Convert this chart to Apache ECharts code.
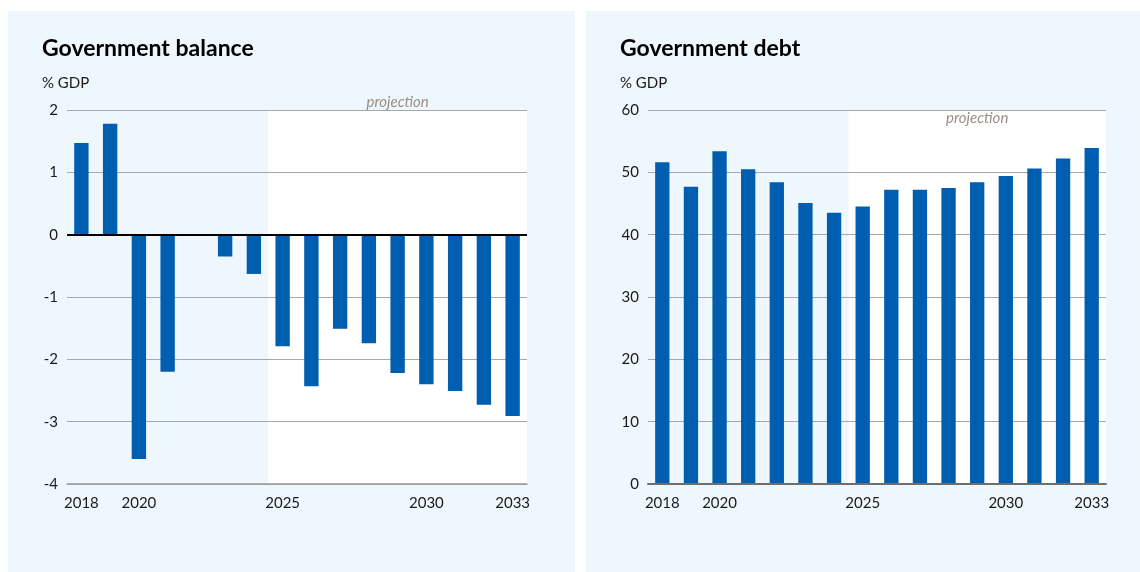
<!DOCTYPE html>
<html>
<head>
<meta charset="utf-8">
<script src="https://cdn.jsdelivr.net/npm/echarts@6/dist/echarts.min.js"></script>
<style>
  html, body { margin: 0; padding: 0; background: #ffffff; }
  body { width: 1140px; height: 572px; position: relative; overflow: hidden; }
  .panel { position: absolute; top: 11px; height: 561px; background: #edf7fd; }
  #balance { left: 8px; width: 567px; }
  #debt { left: 586px; width: 554px; }
</style>
</head>
<body>
<div id="balance" class="panel"></div>
<div id="debt" class="panel"></div>
<script>
// Years on the horizontal axis
const years = ['2018','2019','2020','2021','2022','2023','2024','2025',
               '2026','2027','2028','2029','2030','2031','2032','2033'];
// Only these years get a label under their tick
const labelledYears = ['2018','2020','2025','2030','2033'];
// Index of the first projected year
const firstProjection = 7;

// Government balance, % GDP
const balanceValues = [1.47, 1.78, -3.60, -2.20, 0, -0.35, -0.63, -1.79,
                       -2.43, -1.51, -1.74, -2.22, -2.40, -2.51, -2.73, -2.91];
// Government debt, % GDP
const debtValues = [51.6, 47.7, 53.4, 50.5, 48.4, 45.1, 43.5, 44.5,
                    47.2, 47.2, 47.5, 48.4, 49.4, 50.6, 52.2, 53.9];

const balanceTicks = { min: -4, max: 2, interval: 1 };
const debtTicks = { min: 0, max: 60, interval: 10 };

const FONT = 'Lato, "Noto Sans", sans-serif';
const BAR = '#005eb0';
const GRID_LINE = '#a8a8a8';

function makeOption(cfg) {
  return {
    animation: false,
    title: [
      { text: cfg.title, left: 34, top: 26, padding: 0,
        textStyle: { fontFamily: FONT, fontSize: 23, fontWeight: 'bold', color: '#000' } },
      { text: '% GDP', left: 34, top: 65, padding: 0,
        textStyle: { fontFamily: FONT, fontSize: 15, fontWeight: 'normal', color: '#1a1a1a' } }
    ],
    grid: { left: cfg.gridLeft, right: cfg.gridRight, top: 99, bottom: 88, containLabel: false },
    xAxis: [
      {
        type: 'category',
        data: years,
        boundaryGap: true,
        axisLine: { onZero: false, lineStyle: { color: cfg.axisColor, width: cfg.axisWidth } },
        axisTick: { alignWithLabel: true, interval: 0, length: 7, lineStyle: { color: '#8a8a8a', width: 1 } },
        axisLabel: {
          interval: (i, v) => labelledYears.includes(v),
          margin: 12,
          fontFamily: FONT, fontSize: 15, color: '#1a1a1a'
        },
        z: 3
      },
      {
        // helper axis spanning the category bands, used to shade the projection period
        type: 'value', min: -0.5, max: years.length - 0.5, show: false
      }
    ],
    yAxis: {
      type: 'value',
      min: cfg.ticks.min, max: cfg.ticks.max, interval: cfg.ticks.interval,
      axisLine: { show: false },
      axisTick: { show: false },
      axisLabel: { margin: 9, fontFamily: FONT, fontSize: 15, color: '#1a1a1a' },
      splitLine: { lineStyle: { color: GRID_LINE, width: 1 } },
      z: 1
    },
    series: [
      {
        type: 'line',
        xAxisIndex: 1,
        data: [],
        silent: true,
        z: 0,
        markArea: {
          silent: true,
          z: 0,
          itemStyle: { color: '#ffffff' },
          label: {
            show: true,
            position: cfg.labelPos,
            distance: cfg.labelDist,
            formatter: 'projection',
            fontFamily: FONT, fontStyle: 'italic', fontSize: 15, color: '#9b8c87'
          },
          data: [[{ xAxis: firstProjection - 0.5 }, { xAxis: years.length - 0.5 }]]
        }
      },
      {
        type: 'bar',
        data: cfg.values,
        barWidth: '50%',
        itemStyle: { color: BAR },
        z: 2,
        markLine: cfg.zeroLine ? {
          silent: true,
          symbol: 'none',
          label: { show: false },
          lineStyle: { color: '#000', width: 2, type: 'solid' },
          data: [{ yAxis: 0 }]
        } : undefined
      }
    ]
  };
}

const balanceChart = echarts.init(document.getElementById('balance'), null, { renderer: 'canvas' });
balanceChart.setOption(makeOption({
  title: 'Government balance',
  values: balanceValues,
  ticks: balanceTicks,
  gridLeft: 59, gridRight: 48,
  axisColor: '#9a9a9a', axisWidth: 1.5,
  labelPos: 'top', labelDist: 0,
  zeroLine: true
}));

const debtChart = echarts.init(document.getElementById('debt'), null, { renderer: 'canvas' });
debtChart.setOption(makeOption({
  title: 'Government debt',
  values: debtValues,
  ticks: debtTicks,
  gridLeft: 62, gridRight: 34,
  axisColor: '#6e6e6e', axisWidth: 2,
  labelPos: 'insideTop', labelDist: 1,
  zeroLine: false
}));
</script>
</body>
</html>
